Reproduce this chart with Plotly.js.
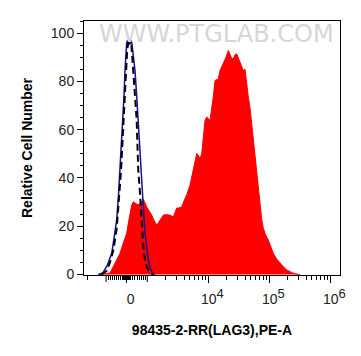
<!DOCTYPE html>
<html>
<head>
<meta charset="utf-8">
<script src="https://cdn.plot.ly/plotly-3.0.1.min.js"></script>
<style>html,body{margin:0;padding:0;background:#fff;}#chart{width:361px;height:356px;}</style>
</head>
<body>
<div id="chart"></div>
<script>
// ---- data (fluorescence intensity, PE-A) ----
const stainedX = [-1296,-1053,-811,-568,-325,-165,0,78,160,243,320,427,549,670,806,971,1066,1181,1288,1426,1526,1615,1829,2064,2356,2668,3034,3309,3664,3996,4424,5012,5677,6168,6454,6858,7311,7795,8279,8830,9415,10000,10664,11370,12080,12880,14590,15550,16590,17620,19510,21280,22690,24190,25700,27400,29220,30690,33100,35280,37480,40000,42610,45260,48300,51450,54670,58300,62140,66030,70400,75070,79720,86650,96290,104600,116300,131200,149700,169700,192900,218400,243800,284500,318500];
const stainedY = [0,0.2,0.6,4.7,8.8,13,17.1,21.2,25.4,28.8,30.1,29.5,28.8,29.5,31.2,28,26.5,24.6,22.5,20.5,21.5,22.6,24.6,24.8,24.6,23.8,27.5,27.6,28,30.5,33,37,43.2,48,50.1,49.4,48,50,58.4,63.8,65.2,64.5,63.9,69,73.5,80.4,81,84.5,86,87.9,90,92.8,91,89.5,89.3,91,91.4,90,88.6,86,84.5,85,78,73.5,69,62,55.6,48.5,41.9,35,28.1,23,19.2,16.5,14.3,11.8,8.8,6.5,4.7,3.2,1.9,1.1,0.6,0.2,0];

const controlX = [-1345,-1136,-932,-728,-616,-485,-398,-325,-252,-194,-131,-83,-44,0,53,102,160,209,243,291,345,403,485,563,631,694,752,806,888,971,1038,1107,1181,1254,1337];
const controlY = [0,0.6,4,8.8,15,22.6,33,43.2,54,63.9,74,84.5,91,96.2,97,95.5,95.5,96.9,96.2,93,90,84.5,74,63.9,53,43.2,35,28.1,17.1,10,6.1,3,1.2,0.4,0];

const blankX = [-1199,-971,-811,-650,-485,-374,-277,-204,-141,-83,-24,24,78,126,175,223,272,320,403,485,524,563,646,728,806,888,971,1107,1241];
const blankY = [0,1.5,5,10,19,30,43,55,65,76,86,93,96,96.5,95.5,95,90,84.5,74,63.9,53,43.2,33.6,22.6,11.6,6,3.3,0.6,0];

const xLabelTicks = [0, 1e4, 1e5, 1e6];
const xLabels = ['0', '10<sup><span style="font-size:13px">4</span></sup>', '10<sup><span style="font-size:13px">5</span></sup>', '10<sup><span style="font-size:13px">6</span></sup>'];
const xUnlabelledMajorTicks = [-1000, 1000];
const xMinorTicks = [-3000,-2000,-900,-800,-700,-600,-500,-400,-300,-200,-140,-120,-100,-80,-60,-40,-20,20,40,60,80,100,120,140,200,300,400,500,600,700,800,900,
  2000,3000,4000,5000,6000,7000,8000,9000,2e4,3e4,4e4,5e4,6e4,7e4,8e4,9e4,2e5,3e5,4e5,5e5,6e5,7e5,8e5,9e5];
const yTicks = [0, 20, 40, 60, 80, 100];
const yLabels = ['0', '20', '40', '60', '80', '100'];

// ---- biexponential-like display transform (linear near 0, log beyond) ----
function disp(v) {
  const LIN = 1000, SLOPE = 20.6 / 1000, DEC = 61;
  if (Math.abs(v) <= LIN) return v * SLOPE;
  const s = Math.sign(v);
  return s * (LIN * SLOPE + DEC * Math.log10(Math.abs(v) / LIN));
}
const tx = a => a.map(disp);

const font = 'Liberation Sans, Arial, sans-serif';
const PLOT_H = 356 - 21 - 81;

const traces = [
  {x: tx(stainedX), y: stainedY, type: 'scatter', mode: 'lines', fill: 'tozeroy',
   fillcolor: '#ff0000', line: {color: '#ff0000', width: 1}, hoverinfo: 'skip'},
  {x: tx(controlX), y: controlY, type: 'scatter', mode: 'lines',
   line: {color: '#14148c', width: 1.5}, hoverinfo: 'skip'},
  {x: tx(blankX), y: blankY, type: 'scatter', mode: 'lines',
   line: {color: '#000000', width: 2, dash: '7px,4px'}, hoverinfo: 'skip'}
];

// longer unlabelled major ticks at -10^3 and 10^3
const tickShapes = tx(xUnlabelledMajorTicks).map(xv => ({
  type: 'line', xref: 'x', yref: 'paper', x0: xv, x1: xv, y0: 0, y1: -7 / PLOT_H,
  line: {color: '#000', width: 1}, layer: 'above'
}));

const layout = {
  width: 361, height: 356,
  margin: {l: 84, r: 21, t: 21, b: 81},
  paper_bgcolor: '#ffffff', plot_bgcolor: '#ffffff',
  showlegend: false,
  font: {family: font, color: '#222', size: 14},
  xaxis: {
    range: [-42.7, 213.3], showgrid: false, zeroline: false,
    showline: true, linecolor: '#000', linewidth: 1, mirror: true,
    ticks: 'outside', ticklen: 7, tickcolor: '#000', tickwidth: 1,
    tickmode: 'array', tickvals: tx(xLabelTicks), ticktext: xLabels,
    ticklabelshift: 4, ticklabelstandoff: 4,
    tickfont: {family: font, size: 14, color: '#222'},
    minor: {tickmode: 'array', tickvals: tx(xMinorTicks), ticks: 'outside', ticklen: 4, tickcolor: '#000', tickwidth: 1, showgrid: false},
    title: {text: '98435-2-RR(LAG3),PE-A', font: {family: font, size: 14, color: '#000', weight: 'bold'}, standoff: 19},
    fixedrange: true
  },
  yaxis: {
    range: [-0.2, 105], showgrid: false, zeroline: false,
    showline: true, linecolor: '#000', linewidth: 1, mirror: true,
    ticks: 'outside', ticklen: 6, tickcolor: '#000', tickwidth: 1,
    tickmode: 'array', tickvals: yTicks, ticktext: yLabels,
    tickfont: {family: font, size: 14, color: '#222'},
    minor: {dtick: 5, ticks: 'outside', ticklen: 3, tickcolor: '#000', tickwidth: 1, showgrid: false},
    title: {text: 'Relative Cell Number', font: {family: font, size: 14, color: '#000', weight: 'bold'}, standoff: 14},
    fixedrange: true
  },
  shapes: tickShapes,
  annotations: [{
    text: 'WWW.PTGLAB.COM', xref: 'paper', yref: 'paper', x: 0.516, y: 0.95,
    xanchor: 'center', yanchor: 'middle', showarrow: false,
    font: {family: 'DejaVu Sans, sans-serif', size: 24, color: '#d6d6d6'}
  }]
};

Plotly.newPlot('chart', traces, layout, {staticPlot: true, displayModeBar: false});
</script>
</body>
</html>
